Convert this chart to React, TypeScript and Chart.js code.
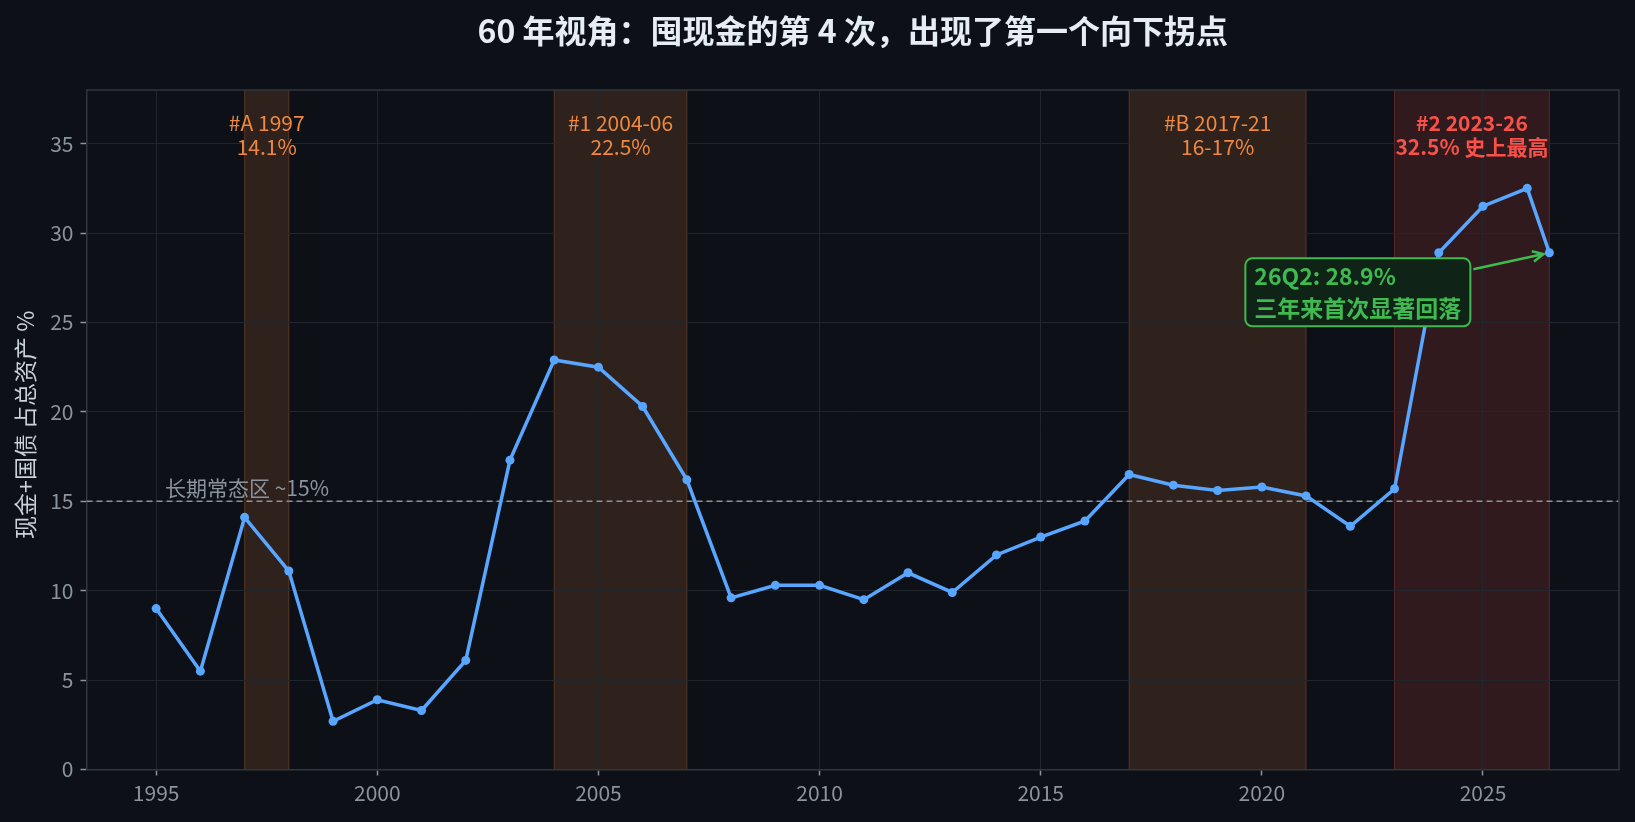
import { useEffect, useRef } from "react"
import { Chart, registerables } from "chart.js"

Chart.register(...registerables)

// yearly share of cash + T-bills in total assets (%), last point is 26Q2
const years = [
  1995, 1996, 1997, 1998, 1999, 2000, 2001, 2002, 2003, 2004, 2005, 2006, 2007, 2008, 2009, 2010,
  2011, 2012, 2013, 2014, 2015, 2016, 2017, 2018, 2019, 2020, 2021, 2022, 2023, 2024, 2025, 2026,
  2026.5,
]
const cashPct = [
  9.0, 5.5, 14.1, 11.1, 2.7, 3.9, 3.3, 6.1, 17.3, 22.9, 22.5, 20.3, 16.2, 9.6, 10.3, 10.3,
  9.5, 11.0, 9.9, 12.0, 13.0, 13.9, 16.5, 15.9, 15.6, 15.8, 15.3, 13.6, 15.7, 28.9, 31.5, 32.5,
  28.9,
]

const xTicks = [1995, 2000, 2005, 2010, 2015, 2020, 2025]
const yTicks = [0, 5, 10, 15, 20, 25, 30, 35]

// cash-hoarding episodes
const bandFrom = [1997, 2004, 2017, 2023]
const bandTo = [1998, 2007, 2021, 2026.5]
const bandTitles = ["#A 1997", "#1 2004-06", "#B 2017-21", "#2 2023-26"]
const bandNotes = ["14.1%", "22.5%", "16-17%", "32.5% 史上最高"]
const bandLabelY = 35.5

const normalLevel = 15
const normalLabel = "长期常态区 ~15%"

const noteLines = ["26Q2: 28.9%", "三年来首次显著回落"]
const noteAt = { x: 2019.83, y: 27.58 }
const noteTarget = { x: 2026.5, y: 28.9 }

const title = "60 年视角：囤现金的第 4 次，出现了第一个向下拐点"
const yTitle = "现金+国债 占总资产 %"

const BG = "#0d1117"
const FONT = '"Noto Sans CJK SC", "Noto Sans", sans-serif'
const ORANGE = "#f0883e"
const RED = "#f85149"
const GREEN = "#3fb950"

const font = (size: number, bold = false) => `${bold ? "bold " : ""}${size}px ${FONT}`

const overlay = {
  id: "overlay",
  beforeDraw(chart: any) {
    const { ctx, chartArea: a, scales } = chart
    const x = scales.x
    ctx.save()
    ctx.fillStyle = BG
    ctx.fillRect(0, 0, chart.width, chart.height)
    bandFrom.forEach((from, i) => {
      const hot = i === bandFrom.length - 1
      const x0 = x.getPixelForValue(from)
      const x1 = x.getPixelForValue(bandTo[i])
      ctx.fillStyle = hot ? "rgba(248, 81, 73, 0.15)" : "rgba(240, 136, 62, 0.15)"
      ctx.fillRect(x0, a.top, x1 - x0, a.bottom - a.top)
      ctx.strokeStyle = hot ? "rgba(248, 81, 73, 0.3)" : "rgba(240, 136, 62, 0.25)"
      ctx.lineWidth = 1
      ctx.beginPath()
      ctx.moveTo(x0, a.top)
      ctx.lineTo(x0, a.bottom)
      ctx.moveTo(x1, a.top)
      ctx.lineTo(x1, a.bottom)
      ctx.stroke()
    })
    ctx.restore()
  },
  beforeDatasetsDraw(chart: any) {
    const { ctx, chartArea: a, scales } = chart
    const py = scales.y.getPixelForValue(normalLevel)
    ctx.save()
    ctx.strokeStyle = "#8b949e"
    ctx.lineWidth = 1.5
    ctx.setLineDash([6, 4])
    ctx.beginPath()
    ctx.moveTo(a.left, py)
    ctx.lineTo(a.right, py)
    ctx.stroke()
    ctx.setLineDash([])
    ctx.fillStyle = "#8b949e"
    ctx.font = font(21)
    ctx.textAlign = "left"
    ctx.textBaseline = "bottom"
    ctx.fillText(normalLabel, scales.x.getPixelForValue(1995.2), py - 3)
    ctx.restore()
  },
  afterDatasetsDraw(chart: any) {
    const { ctx, chartArea: a, scales } = chart
    const x = scales.x
    const y = scales.y
    ctx.save()

    // band labels
    ctx.textAlign = "center"
    ctx.textBaseline = "middle"
    bandFrom.forEach((from, i) => {
      const hot = i === bandFrom.length - 1
      const cx = x.getPixelForValue((from + bandTo[i]) / 2)
      const cy = y.getPixelForValue(bandLabelY)
      ctx.fillStyle = hot ? RED : ORANGE
      ctx.font = font(21, hot)
      ctx.fillText(bandTitles[i], cx, cy - 12)
      ctx.fillText(bandNotes[i], cx, cy + 12)
    })

    // annotation box + arrow
    ctx.font = font(23, true)
    const tx = x.getPixelForValue(noteAt.x)
    const ty = y.getPixelForValue(noteAt.y)
    const w = Math.max(...noteLines.map((l) => ctx.measureText(l).width))
    const bx0 = tx - 9
    const bx1 = tx + w + 9
    const by0 = ty - 18
    const by1 = ty + 32 + 18
    ctx.fillStyle = "#0f2417"
    ctx.strokeStyle = GREEN
    ctx.lineWidth = 2
    ctx.beginPath()
    ctx.roundRect(bx0, by0, bx1 - bx0, by1 - by0, 7)
    ctx.fill()
    ctx.stroke()
    ctx.fillStyle = GREEN
    ctx.textAlign = "left"
    noteLines.forEach((l, i) => ctx.fillText(l, tx, ty + i * 32))

    const ex = x.getPixelForValue(noteTarget.x)
    const ey = y.getPixelForValue(noteTarget.y)
    const sx = bx1 + 3
    const sy = by0 + 11
    const ang = Math.atan2(ey - sy, ex - sx)
    const hx = ex - Math.cos(ang) * 6
    const hy = ey - Math.sin(ang) * 6
    ctx.strokeStyle = GREEN
    ctx.lineWidth = 2.5
    ctx.beginPath()
    ctx.moveTo(sx, sy)
    ctx.lineTo(hx, hy)
    ctx.moveTo(hx - Math.cos(ang - 0.45) * 12, hy - Math.sin(ang - 0.45) * 12)
    ctx.lineTo(hx, hy)
    ctx.lineTo(hx - Math.cos(ang + 0.45) * 12, hy - Math.sin(ang + 0.45) * 12)
    ctx.stroke()

    // top / right spines
    ctx.strokeStyle = "#30363d"
    ctx.lineWidth = 1.5
    ctx.beginPath()
    ctx.moveTo(a.left, a.top)
    ctx.lineTo(a.right, a.top)
    ctx.lineTo(a.right, a.bottom)
    ctx.stroke()

    // title and y title
    ctx.fillStyle = "#e6edf3"
    ctx.font = font(32, true)
    ctx.textAlign = "center"
    ctx.textBaseline = "middle"
    ctx.fillText(title, (a.left + a.right) / 2, 31)

    ctx.translate(25, (a.top + a.bottom) / 2 - 5)
    ctx.rotate(-Math.PI / 2)
    ctx.fillStyle = "#c9d1d9"
    ctx.font = font(23)
    ctx.fillText(yTitle, 0, 0)
    ctx.restore()
  },
}

export default function App() {
  const chartRef = useRef<HTMLCanvasElement>(null)
  const chartInstance = useRef<Chart | null>(null)

  useEffect(() => {
    document.body.style.margin = "0"
    document.body.style.background = BG
    if (!chartRef.current) return
    if (chartInstance.current) chartInstance.current.destroy()
    const ctx = chartRef.current.getContext("2d")
    if (!ctx) return

    const gridColor = "#21262d"
    const tickColor = "#8b949e"

    chartInstance.current = new Chart(ctx, {
      type: "line",
      data: {
        datasets: [
          {
            data: years.map((yr, i) => ({ x: yr, y: cashPct[i] })),
            borderColor: "#58a6ff",
            backgroundColor: "#58a6ff",
            borderWidth: 3.5,
            pointRadius: 4.5,
            pointHoverRadius: 4.5,
            pointBorderWidth: 0,
            tension: 0,
          },
        ],
      },
      options: {
        animation: false,
        responsive: false,
        layout: { padding: { top: 90, right: 16, left: 0, bottom: 0 } },
        plugins: {
          legend: { display: false },
          tooltip: { enabled: false },
        },
        scales: {
          x: {
            type: "linear",
            min: 1993.425,
            max: 2028.075,
            afterBuildTicks: (s: any) => {
              s.ticks = xTicks.map((v) => ({ value: v }))
            },
            afterFit: (s: any) => {
              s.height = 52.5
            },
            grid: { color: gridColor, tickLength: 6, tickColor, tickWidth: 1.5 },
            border: { color: "#30363d", width: 1.5 },
            ticks: {
              color: tickColor,
              font: { family: FONT, size: 21 },
              padding: 5,
              maxRotation: 0,
              callback: (v: any) => String(v),
            },
          },
          y: {
            min: 0,
            max: 38,
            afterBuildTicks: (s: any) => {
              s.ticks = yTicks.map((v) => ({ value: v }))
            },
            afterFit: (s: any) => {
              s.width = 86.5
            },
            grid: { color: gridColor, tickLength: 6, tickColor, tickWidth: 1.5 },
            border: { color: "#30363d", width: 1.5 },
            ticks: {
              color: tickColor,
              font: { family: FONT, size: 21 },
              padding: 7,
            },
          },
        },
      },
      plugins: [overlay],
    })

    return () => {
      if (chartInstance.current) {
        chartInstance.current.destroy()
        chartInstance.current = null
      }
    }
  }, [])

  return (
    <div style={{ width: 1635, height: 822, background: BG }}>
      <canvas ref={chartRef} width={1635} height={822}></canvas>
    </div>
  )
}
